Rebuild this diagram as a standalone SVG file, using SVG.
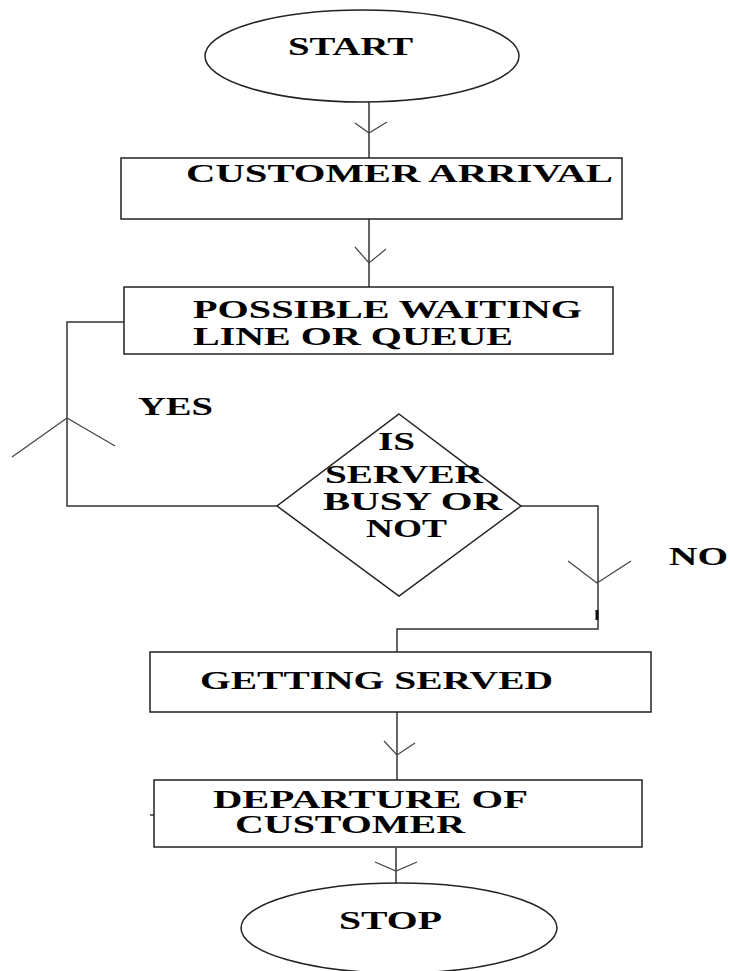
<svg xmlns="http://www.w3.org/2000/svg" width="730" height="971" viewBox="0 0 730 971">
<style>
.shape{fill:#fff;stroke:#222;stroke-width:1.5}
.line{fill:none;stroke:#333;stroke-width:1.5}
.head{fill:none;stroke:#444;stroke-width:1.2}
.t{font-family:"Liberation Serif","Times New Roman",serif;font-weight:bold;font-size:25px;fill:#000}
</style>
<rect width="730" height="971" fill="#fff"/>
<g id="connectors">
<line class="line" x1="369" y1="102" x2="369" y2="158"/>
<polyline class="head" points="355,123 369,133 387,122"/>
<line class="line" x1="369" y1="219" x2="369" y2="287"/>
<polyline class="head" points="355,247 369,263 386,249"/>
<polyline class="line" points="124,322 67,322 67,506 277,506"/>
<polyline class="head" points="12,457 67,418 115,446"/>
<polyline class="line" points="521,506 598,506 598,629 397,629 397,652"/>
<polyline class="head" points="568,561 597,583 631,561"/>
<line x1="597" y1="610" x2="597" y2="620" stroke="#111" stroke-width="3"/>
<line class="line" x1="397" y1="712" x2="397" y2="780"/>
<polyline class="head" points="384,741 397,755 415,743"/>
<line class="line" x1="396" y1="848" x2="396" y2="883"/>
<polyline class="head" points="375,862 396,871 417,862"/>
<line x1="150" y1="815" x2="154" y2="815" stroke="#333" stroke-width="1.5"/>
</g>
<g id="start">
<ellipse class="shape" cx="362" cy="56" rx="157" ry="46"/>
<text class="t" x="288" y="55" textLength="125" lengthAdjust="spacingAndGlyphs">START</text>
</g>
<g id="arrival">
<rect class="shape" x="121" y="158" width="501" height="61"/>
<text class="t" x="186" y="182" textLength="427" lengthAdjust="spacingAndGlyphs">CUSTOMER ARRIVAL</text>
</g>
<g id="queue">
<rect class="shape" x="124" y="287" width="489" height="67"/>
<text class="t" x="193" y="318" textLength="389" lengthAdjust="spacingAndGlyphs">POSSIBLE WAITING</text>
<text class="t" x="193" y="345" textLength="320" lengthAdjust="spacingAndGlyphs">LINE OR QUEUE</text>
</g>
<g id="yes-label">
<text class="t" x="138" y="415" textLength="75" lengthAdjust="spacingAndGlyphs">YES</text>
</g>
<g id="decision">
<polygon class="shape" points="399,414 521,506 399,596 277,506"/>
<text class="t" x="378" y="450" textLength="37" lengthAdjust="spacingAndGlyphs">IS</text>
<text class="t" x="325" y="483" textLength="158" lengthAdjust="spacingAndGlyphs">SERVER</text>
<text class="t" x="323" y="510" textLength="179" lengthAdjust="spacingAndGlyphs">BUSY OR</text>
<text class="t" x="366" y="537" textLength="81" lengthAdjust="spacingAndGlyphs">NOT</text>
</g>
<g id="no-label">
<text class="t" x="669" y="565" textLength="59" lengthAdjust="spacingAndGlyphs">NO</text>
</g>
<g id="served">
<rect class="shape" x="150" y="652" width="501" height="60"/>
<text class="t" x="200" y="689" textLength="353" lengthAdjust="spacingAndGlyphs">GETTING SERVED</text>
</g>
<g id="departure">
<rect class="shape" x="154" y="780" width="488" height="67"/>
<text class="t" x="213" y="808" textLength="315" lengthAdjust="spacingAndGlyphs">DEPARTURE OF</text>
<text class="t" x="235" y="833" textLength="230" lengthAdjust="spacingAndGlyphs">CUSTOMER</text>
</g>
<g id="stop">
<ellipse class="shape" cx="399" cy="928" rx="158" ry="45"/>
<text class="t" x="339" y="929" textLength="103" lengthAdjust="spacingAndGlyphs">STOP</text>
</g>
</svg>
